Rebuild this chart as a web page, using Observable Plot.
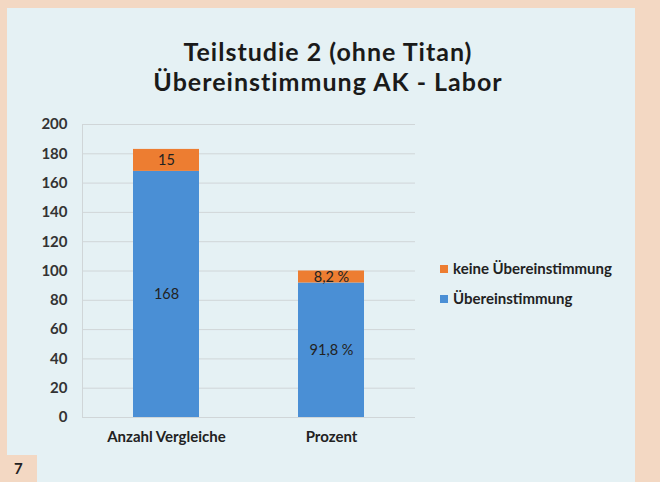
<!DOCTYPE html>
<html><head><meta charset="utf-8">
<script src="https://cdn.jsdelivr.net/npm/d3@7"></script>
<script src="https://cdn.jsdelivr.net/npm/@observablehq/plot@0.6"></script>
<style>
html,body{margin:0;padding:0;background:#f3d8c3;}
#wrap{position:relative;width:660px;height:482px;overflow:hidden;font-family:Lato,"Open Sans",sans-serif;}
#panel{position:absolute;left:7px;top:8px;width:628px;height:474px;background:#e5f1f4;}
#title{position:absolute;left:0;width:656px;top:36px;text-align:center;font-weight:700;font-size:25px;line-height:30px;letter-spacing:1px;color:#1a1a1a;}
#chart{position:absolute;left:0;top:110px;}
#legend{position:absolute;left:440px;top:259px;font-size:15px;font-weight:700;color:#222;}
#legend div{height:30px;display:flex;align-items:flex-start;}
#legend span.sw{display:inline-block;width:8px;height:8px;margin-right:5px;margin-top:6px;}
#pg{position:absolute;left:7px;top:455px;width:30px;height:27px;background:#f3d8c3;font-weight:700;font-size:15px;color:#222;}
#pg span{position:absolute;left:7px;top:4px;}
</style></head>
<body>
<div id="wrap">
<div id="panel"></div>
<div id="title"><div>Teilstudie 2 (ohne Titan)</div><div>Übereinstimmung AK - Labor</div></div>
<div id="chart"></div>
<div id="legend"></div>
<div id="pg"><span>7</span></div>
</div>
<script>
const categories = ["Anzahl Vergleiche", "Prozent"];
const seriesNames = ["Übereinstimmung", "keine Übereinstimmung"];
const matchValues = [168, 91.8];
const noMatchValues = [15, 8.2];
const matchLabels = ["168", "91,8 %"];
const noMatchLabels = ["15", "8,2 %"];
const yTicks = [0, 20, 40, 60, 80, 100, 120, 140, 160, 180, 200];
const colors = ["#4a8fd5", "#ed7d31"];

const rows = [];
categories.forEach((c, i) => {
  rows.push({cat: c, series: seriesNames[0], value: matchValues[i], label: matchLabels[i]});
  rows.push({cat: c, series: seriesNames[1], value: noMatchValues[i], label: noMatchLabels[i]});
});

const chart = Plot.plot({
  width: 440,
  height: 340,
  marginLeft: 82,
  marginRight: 25,
  marginTop: 14,
  marginBottom: 33,
  style: {background: "transparent", fontFamily: "Lato, 'Open Sans', sans-serif", color: "#333", overflow: "visible"},
  x: {domain: categories, paddingInner: 0.6, paddingOuter: 0.309, label: null},
  y: {domain: [0, 200], ticks: yTicks, label: null},
  color: {domain: seriesNames, range: colors},
  marks: [
    Plot.gridY(yTicks.filter(t => t > 0), {stroke: "#d0d6d8", strokeOpacity: 1}),
    Plot.ruleY([0], {stroke: "#d0d6d8"}),
    Plot.barY(rows, Plot.stackY({x: "cat", y: "value", fill: "series", order: seriesNames})),
    Plot.text(rows, Plot.stackY({x: "cat", y: "value", z: "series", order: seriesNames, text: "label", fill: "#222", fontSize: 14.5})),
    Plot.axisY({ticks: yTicks, tickSize: 0, tickPadding: 15, fontSize: 15, fontWeight: 700, fill: "#333"}),
    Plot.axisX({tickSize: 0, tickPadding: 14, fontSize: 15, fontWeight: 700, fill: "#222"})
  ]
});
d3.select(chart).append("line")
  .attr("x1", 82.5).attr("x2", 82.5).attr("y1", 14).attr("y2", 307)
  .attr("stroke", "#d0d6d8");
document.getElementById("chart").appendChild(chart);

const legend = document.getElementById("legend");
[1, 0].forEach(i => {
  const d = document.createElement("div");
  const sw = document.createElement("span");
  sw.className = "sw";
  sw.style.background = colors[i];
  d.appendChild(sw);
  d.appendChild(document.createTextNode(seriesNames[i]));
  legend.appendChild(d);
});
</script>
</body></html>
